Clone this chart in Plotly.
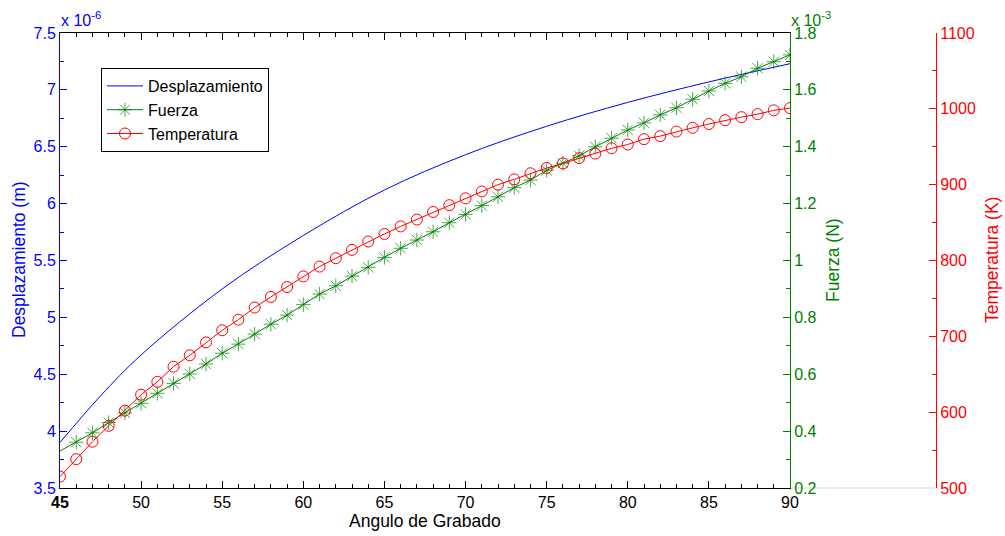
import plotly.graph_objects as go

# ---- data ----
angles = list(range(45, 91))

disp_angles = [45, 47.5, 50, 55, 60, 65, 70, 75, 80, 85, 90]
disp_e6 = [3.90, 4.31, 4.67, 5.25, 5.72, 6.12, 6.43, 6.68, 6.89, 7.07, 7.23]  # x 1e-6 m

fuerza_e3 = [0.330, 0.361, 0.394, 0.430, 0.464, 0.498, 0.533, 0.568, 0.601, 0.636,
             0.674, 0.706, 0.741, 0.776, 0.808, 0.845, 0.882, 0.911, 0.945, 0.976,
             1.011, 1.043, 1.072, 1.101, 1.133, 1.162, 1.193, 1.224, 1.256, 1.283,
             1.317, 1.342, 1.368, 1.400, 1.430, 1.459, 1.484, 1.512, 1.537, 1.567,
             1.596, 1.623, 1.646, 1.676, 1.699, 1.723]  # x 1e-3 N

temperatura = [515, 538, 561, 582, 602, 623, 640, 660, 675, 692,
               708, 722, 738, 752, 765, 779, 792, 803, 814, 825,
               835, 845, 854, 864, 873, 882, 891, 900, 907, 915,
               922, 928, 935, 941, 948, 953, 960, 964, 970, 975,
               980, 985, 989, 993, 998, 1001]  # K

x_ticks = [45, 50, 55, 60, 65, 70, 75, 80, 85, 90]
x_ticktext = ["<b>45</b>", "50", "55", "60", "65", "70", "75", "80", "85", "90"]
y1_ticks = [3.5, 4, 4.5, 5, 5.5, 6, 6.5, 7, 7.5]
y1_ticktext = ["3.5", "4", "4.5", "5", "5.5", "6", "6.5", "7", "7.5"]
y2_ticks = [0.2, 0.4, 0.6, 0.8, 1.0, 1.2, 1.4, 1.6, 1.8]
y2_ticktext = ["0.2", "0.4", "0.6", "0.8", "1", "1.2", "1.4", "1.6", "1.8"]
y3_ticks = [500, 600, 700, 800, 900, 1000, 1100]

BLUE = "#0000FF"
GREEN = "#008000"
RED = "#FF0000"
FONT = "Liberation Sans, Arial, sans-serif"

fig = go.Figure()
fig.add_trace(go.Scatter(x=disp_angles, y=disp_e6, mode="lines", name="Desplazamiento",
                         line=dict(color=BLUE, width=1, shape="spline", smoothing=1.0), yaxis="y"))
fig.add_trace(go.Scatter(x=angles, y=fuerza_e3, mode="lines+markers", name="Fuerza",
                         line=dict(color=GREEN, width=1),
                         marker=dict(symbol="asterisk-open", size=[0] + [12] * (len(angles) - 1),
                                     color=GREEN, line=dict(color=GREEN, width=1)),
                         yaxis="y2"))
fig.add_trace(go.Scatter(x=angles, y=temperatura, mode="lines+markers", name="Temperatura",
                         line=dict(color=RED, width=1),
                         marker=dict(symbol="circle-open", size=11, color=RED,
                                     line=dict(color=RED, width=1)),
                         yaxis="y3"))

W, H = 1005, 536
L, R, T, B = 60, 69, 33, 48
pw = W - L - R
ph = H - T - B
xdom_right = (790 - L) / pw


def px(xp):
    return (xp - L) / pw


def py(yp):
    return (H - B - yp) / ph


fig.update_layout(
    width=W, height=H,
    margin=dict(l=L, r=R, t=T, b=B, autoexpand=False),
    paper_bgcolor="white", plot_bgcolor="white",
    font=dict(family=FONT, size=16, color="black"),
    showlegend=True,
    legend=dict(x=px(101), y=py(68), xanchor="left", yanchor="top",
                bgcolor="white", bordercolor="black", borderwidth=1,
                font=dict(family=FONT, size=16, color="black"),
                tracegroupgap=0, itemwidth=36),
    xaxis=dict(domain=[0, xdom_right], range=[45, 90], tickvals=x_ticks, ticktext=x_ticktext,
               showline=True, linecolor="black", linewidth=1, mirror="ticks",
               ticks="inside", ticklen=7, tickcolor="black",
               minor=dict(dtick=1, ticks="inside", ticklen=4, tickcolor="black"),
               showgrid=False, zeroline=False,
               tickfont=dict(family=FONT, size=16, color="black")),
    yaxis=dict(range=[3.5, 7.5], tickvals=y1_ticks, ticktext=y1_ticktext,
               showline=True, linecolor=BLUE, linewidth=1,
               ticks="inside", ticklen=7, tickcolor=BLUE,
               minor=dict(dtick=0.25, ticks="inside", ticklen=4, tickcolor=BLUE),
               showgrid=False, zeroline=False,
               tickfont=dict(family=FONT, size=16, color=BLUE)),
    yaxis2=dict(overlaying="y", side="right", anchor="x", range=[0.2, 1.8],
                tickvals=y2_ticks, ticktext=y2_ticktext,
                showline=True, linecolor=GREEN, linewidth=1,
                ticks="inside", ticklen=7, tickcolor=GREEN,
                minor=dict(dtick=0.1, ticks="inside", ticklen=4, tickcolor=GREEN),
                showgrid=False, zeroline=False,
                tickfont=dict(family=FONT, size=16, color=GREEN)),
    yaxis3=dict(overlaying="y", side="right", anchor="free", position=1.0, range=[500, 1100],
                tickvals=y3_ticks,
                showline=True, linecolor=RED, linewidth=1,
                ticks="inside", ticklen=7, tickcolor=RED,
                minor=dict(dtick=50, ticks="inside", ticklen=4, tickcolor=RED),
                showgrid=False, zeroline=False,
                tickfont=dict(family=FONT, size=16, color=RED)),
    shapes=[dict(type="line", xref="paper", yref="paper", x0=xdom_right, x1=1.0, y0=0, y1=0,
                 line=dict(color="#D8D8D8", width=1), layer="below")],
)

annotations = [
    dict(text="x 10<sup>-6</sup>", x=px(59), y=py(19), xanchor="left", yanchor="middle",
         font=dict(family=FONT, size=16, color=BLUE)),
    dict(text="x 10<sup>-3</sup>", x=px(789), y=py(19), xanchor="left", yanchor="middle",
         font=dict(family=FONT, size=16, color=GREEN)),
    dict(text="Desplazamiento (m)", x=px(19), y=py(260), textangle=-90,
         xanchor="center", yanchor="middle", font=dict(family=FONT, size=17.5, color=BLUE)),
    dict(text="Fuerza (N)", x=px(833), y=py(260), textangle=-90,
         xanchor="center", yanchor="middle", font=dict(family=FONT, size=17.5, color=GREEN)),
    dict(text="Temperatura (K)", x=px(992), y=py(260), textangle=-90,
         xanchor="center", yanchor="middle", font=dict(family=FONT, size=17.5, color=RED)),
    dict(text="Angulo de Grabado", x=px(425), y=py(521), xanchor="center", yanchor="middle",
         font=dict(family=FONT, size=17.5, color="black")),
]
for a in annotations:
    a.update(xref="paper", yref="paper", showarrow=False)
fig.update_layout(annotations=annotations)

fig.write_html("out.html", config={"displayModeBar": False},
               post_script="document.body.style.margin='0';document.body.style.padding='0';")
